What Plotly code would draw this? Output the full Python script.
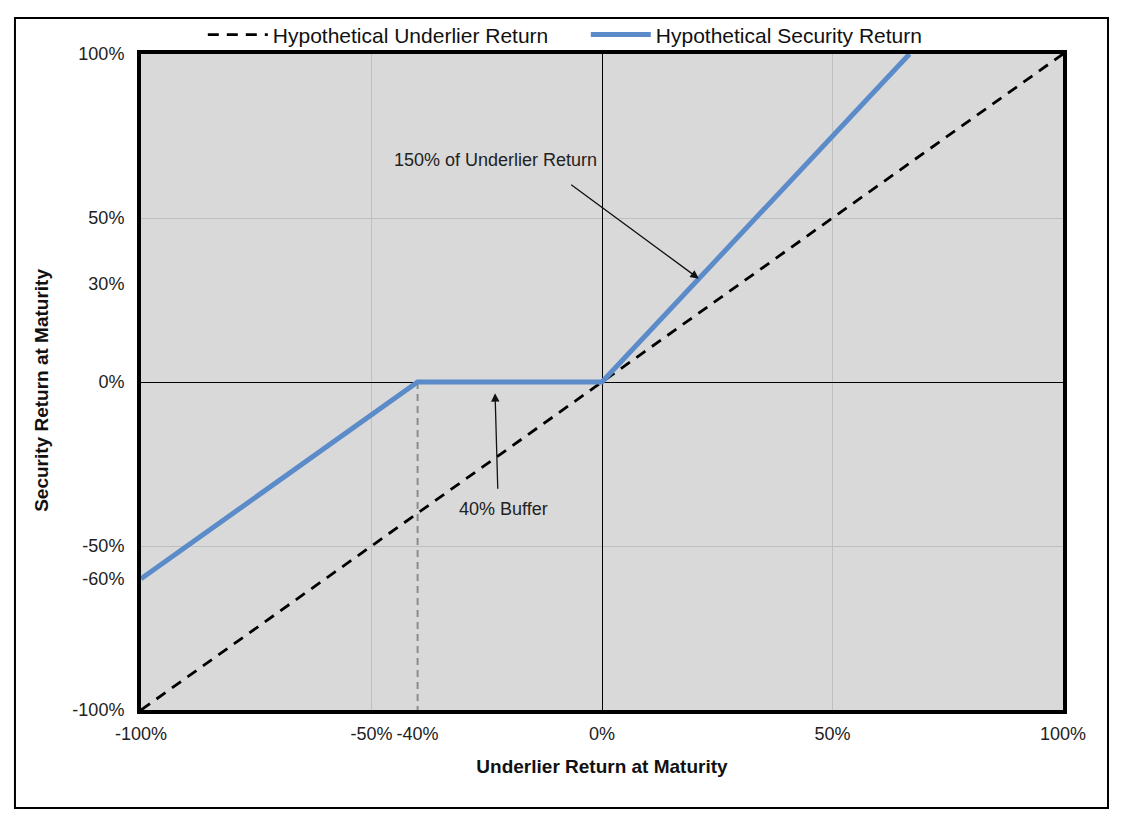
import plotly.graph_objects as go

# payoff diagram data (percent)
underlier_x = [-100, 100]
underlier_y = [-100, 100]
security_x = [-100, -40, 0, 66.7]
security_y = [-60, 0, 0, 100]
buffer_x = [-40, -40]
buffer_y = [0, -100]

x_ticks = [-100, -50, -40, 0, 50, 100]
y_ticks = [-100, -60, -50, 0, 30, 50, 100]
grid_vals = [-50, 50]

FONT = "Liberation Sans, Arial, sans-serif"

fig = go.Figure()
fig.add_trace(go.Scatter(x=buffer_x, y=buffer_y, mode="lines", showlegend=False,
                         line=dict(color="#8c8c8c", width=2, dash="7px,5px"),
                         hoverinfo="skip"))
fig.add_trace(go.Scatter(x=underlier_x, y=underlier_y, mode="lines",
                         name="Hypothetical Underlier Return",
                         line=dict(color="black", width=2.8, dash="11px,8px")))
fig.add_trace(go.Scatter(x=security_x, y=security_y, mode="lines",
                         name="Hypothetical Security Return",
                         line=dict(color="#5b8bc9", width=5)))

# annotations
fig.add_annotation(x=-23, y=67.7, text="150% of Underlier Return", showarrow=False,
                   font=dict(size=18, color="#222"))
fig.add_annotation(x=21, y=31.5, ax=-7, ay=60.5, axref="x", ayref="y", text="",
                   showarrow=True, arrowhead=2, arrowsize=1.3, arrowwidth=1.3,
                   arrowcolor="#111")
fig.add_annotation(x=-21.3, y=-38.7, text="40% Buffer", showarrow=False,
                   font=dict(size=18, color="#222"))
fig.add_annotation(x=-23.2, y=-3.4, ax=-22.6, ay=-33, axref="x", ayref="y", text="",
                   showarrow=True, arrowhead=2, arrowsize=1.3, arrowwidth=1.3,
                   arrowcolor="#111")

# y axis title (sits a little below the middle in the original)
fig.add_annotation(xref="paper", yref="paper", x=-0.1074, y=0.488, textangle=-90,
                   xanchor="center", yanchor="middle",
                   text="<b>Security Return at Maturity</b>", showarrow=False,
                   font=dict(size=19, color="#111"))

# outer frame around the whole chart
fig.add_shape(type="rect", xref="paper", yref="paper",
              x0=-0.1367, x1=1.0488, y0=-0.1494, y1=1.0549,
              line=dict(color="black", width=2), layer="below")

# page body has an 8px margin, so the figure is a bit smaller than the window
fig.update_layout(
    width=1110, height=817,
    margin=dict(l=133, r=55, t=46, b=115, autoexpand=False),
    paper_bgcolor="white",
    plot_bgcolor="#d9d9d9",
    font=dict(family=FONT, size=18, color="#222"),
    legend=dict(orientation="h", xref="container", yref="container",
                x=0.1755, xanchor="left", y=0.967, yanchor="middle",
                font=dict(size=21, color="#111"), itemwidth=60, entrywidth=308,
                bgcolor="rgba(0,0,0,0)"),
    xaxis=dict(range=[-100, 100], tickvals=x_ticks,
               ticktext=[f"{v}%" for v in x_ticks],
               showgrid=False, zeroline=True, zerolinecolor="black", zerolinewidth=1,
               showline=True, linecolor="black", linewidth=4, mirror=True,
               ticks="", ticklabelstandoff=4,
               minor=dict(tickvals=grid_vals, showgrid=True, gridcolor="#bfbfbf", gridwidth=1),
               title=dict(text="<b>Underlier Return at Maturity</b>", font=dict(size=19, color="#111"),
                          standoff=18)),
    yaxis=dict(range=[-100, 100], tickvals=y_ticks,
               ticktext=[f"{v}%" for v in y_ticks],
               showgrid=False, zeroline=True, zerolinecolor="black", zerolinewidth=1,
               showline=True, linecolor="black", linewidth=4, mirror=True,
               ticks="", ticklabelstandoff=9,
               minor=dict(tickvals=grid_vals, showgrid=True, gridcolor="#bfbfbf", gridwidth=1)),
)

fig.write_html("out.html")
